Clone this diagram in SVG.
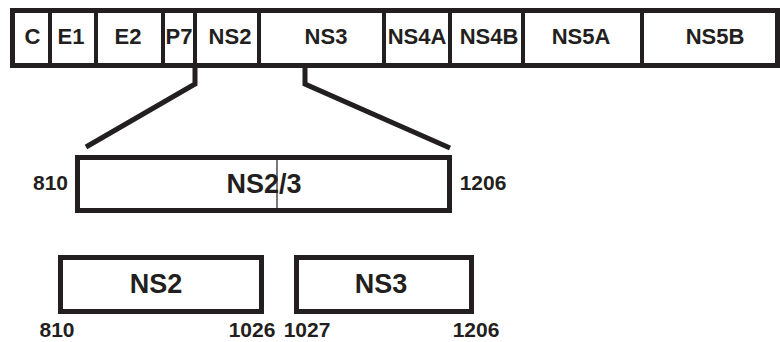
<svg xmlns="http://www.w3.org/2000/svg" width="780" height="342" viewBox="0 0 780 342">
<style>
.box{fill:#fff;stroke:#231f20;stroke-width:5}
.div{stroke:#231f20;stroke-width:4}
.ln{fill:none;stroke:#231f20;stroke-width:5}
text{font-family:"Liberation Sans",Arial,sans-serif;font-weight:bold;fill:#231f20;text-anchor:middle}
.t{font-size:22px}
.b{font-size:27px}
.n{font-size:21px}
</style>
<rect width="780" height="342" fill="#fff"/>
<g id="genome">
<rect class="box" x="12.5" y="10.5" width="765" height="55"/>
<line class="div" x1="50" y1="10" x2="50" y2="66"/>
<line class="div" x1="96" y1="10" x2="96" y2="66"/>
<line class="div" x1="163" y1="10" x2="163" y2="66"/>
<line class="div" x1="195" y1="10" x2="195" y2="66"/>
<line class="div" x1="259" y1="10" x2="259" y2="66"/>
<line class="div" x1="384" y1="10" x2="384" y2="66"/>
<line class="div" x1="450" y1="10" x2="450" y2="66"/>
<line class="div" x1="523" y1="10" x2="523" y2="66"/>
<line class="div" x1="642" y1="10" x2="642" y2="66"/>
<text class="t" x="32.5" y="43.5">C</text>
<text class="t" x="71" y="43.5">E1</text>
<text class="t" x="128" y="43.5">E2</text>
<text class="t" x="179" y="43.5">P7</text>
<text class="t" x="230" y="43.5">NS2</text>
<text class="t" x="326" y="43.5">NS3</text>
<text class="t" x="417" y="43.5">NS4A</text>
<text class="t" x="489" y="43.5">NS4B</text>
<text class="t" x="581" y="43.5">NS5A</text>
<text class="t" x="715" y="43.5">NS5B</text>
</g>
<g id="connectors">
<polyline class="ln" points="195,66 195,84 86,147"/>
<polyline class="ln" points="305,66 305,84 450,148"/>
</g>
<g id="ns23">
<rect class="box" x="77.5" y="157.5" width="372" height="53"/>
<line x1="277" y1="158" x2="277" y2="210" stroke="#231f20" stroke-width="1.2"/>
<text class="b" x="264" y="193">NS2/3</text>
<text class="n" x="50.5" y="190">810</text>
<text class="n" x="483" y="190">1206</text>
</g>
<g id="ns2">
<rect class="box" x="60.5" y="257.5" width="201" height="54"/>
<text class="b" x="156" y="293">NS2</text>
<text class="n" x="57" y="337">810</text>
<text class="n" x="252" y="337">1026</text>
</g>
<g id="ns3">
<rect class="box" x="296.5" y="257.5" width="175" height="54"/>
<text class="b" x="381" y="293">NS3</text>
<text class="n" x="307" y="337">1027</text>
<text class="n" x="476" y="337">1206</text>
</g>
</svg>
